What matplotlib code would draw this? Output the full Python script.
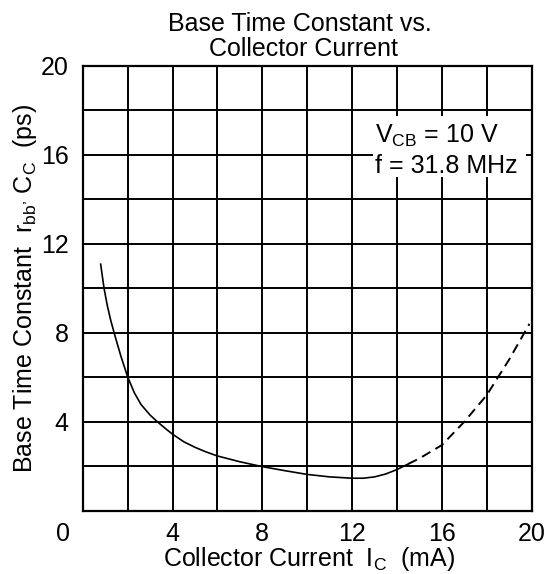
import numpy as np
import matplotlib
matplotlib.use("Agg")
import matplotlib.pyplot as plt
import matplotlib.transforms as mtransforms
from matplotlib.patches import Rectangle

plt.rcParams['font.family'] = ['Liberation Sans', 'DejaVu Sans']
plt.rcParams['mathtext.fontset'] = 'custom'
plt.rcParams['mathtext.rm'] = 'Liberation Sans'
plt.rcParams['mathtext.it'] = 'Liberation Sans'

# data (Ic in mA, rbb'Cc in ps)
ic_solid = [0.8, 0.95, 1.1, 1.25, 1.44, 1.7, 2.0, 2.3, 2.6, 3.0, 3.3, 3.7, 4.0,
            4.5, 5.0, 5.5, 6.0, 7.0, 8.0, 9.0, 10.0, 11.0, 12.0, 12.5, 13.0,
            13.5, 14.0, 14.5]
tau_solid = [11.08, 10.0, 9.2, 8.55, 7.85, 6.95, 6.02, 5.3, 4.77, 4.3, 4.02, 3.68, 3.44,
             3.1, 2.85, 2.64, 2.46, 2.2, 1.98, 1.8, 1.63, 1.52, 1.46, 1.46, 1.52,
             1.65, 1.85, 2.1]
ic_dash = [14.5, 15.0, 16.0, 17.0, 18.0, 19.0, 19.9]
tau_dash = [2.1, 2.35, 2.95, 4.0, 5.2, 6.8, 8.4]

xticks = [0, 4, 8, 12, 16, 20]
yticks = [0, 4, 8, 12, 16, 20]
ytick_labels = ['', '4', '8', '12', '16', '20']

fs = 18
fig = plt.figure(figsize=(5.59, 5.74), dpi=100)
ax = fig.add_axes([82.7/559, 1 - 510.7/574, 449/559, 445/574])

ax.set_xlim(0, 20)
ax.set_ylim(0, 20)
ax.set_xticks(xticks)
ax.set_xticks(np.arange(0, 21, 2), minor=True)
ax.set_yticks(yticks)
ax.set_yticks(np.arange(0, 21, 2), minor=True)
ax.set_xticklabels([str(t) for t in xticks], fontsize=fs)
ax.set_yticklabels(ytick_labels, fontsize=fs)
ax.tick_params(which='both', length=0)
ax.tick_params(axis='x', pad=8)
ax.tick_params(axis='y', pad=10)
ax.set_axisbelow(True)
ax.grid(which='both', color='black', linewidth=1.4)
for s in ax.spines.values():
    s.set_linewidth(1.6)

# shift the origin "0" label left like the datasheet
lab0 = ax.get_xticklabels()[0]
lab0.set_transform(lab0.get_transform() +
                   mtransforms.ScaledTranslation(-20/100, 0, fig.dpi_scale_trans))

ax.plot(ic_solid, tau_solid, color='black', linewidth=1.2, zorder=3)
ax.plot(ic_dash, tau_dash, color='black', linewidth=1.4, linestyle=(0, (5, 3)), zorder=3)

# white box behind the conditions text
ax.add_patch(Rectangle((12.93, 15.0), 6.8, 2.75, facecolor='white',
                       edgecolor='none', zorder=1.5))
ax.text(13.0, 16.54, r'V$_{\mathrm{CB}}$ = 10 V', fontsize=fs, va='baseline', zorder=4)
ax.text(13.0, 15.16, 'f = 31.8 MHz', fontsize=fs, va='baseline', zorder=4)

fig.text(300/559, 1 - 30.7/574, 'Base Time Constant vs.', fontsize=fs,
         ha='center', va='baseline')
fig.text(303/559, 1 - 55.7/574, 'Collector Current', fontsize=fs,
         ha='center', va='baseline')
fig.text(309/559, 1 - 566/574, r'Collector Current  I$_{\mathrm{C}}$  (mA)', fontsize=fs,
         ha='center', va='baseline')
fig.text(25/559, 1 - 288/574, r"Base Time Constant  r$_{\mathrm{bb’}}$ C$_{\mathrm{C}}$  (ps)",
         fontsize=fs, rotation=90, ha='center', va='center')

fig.savefig('out.png', dpi=100)
